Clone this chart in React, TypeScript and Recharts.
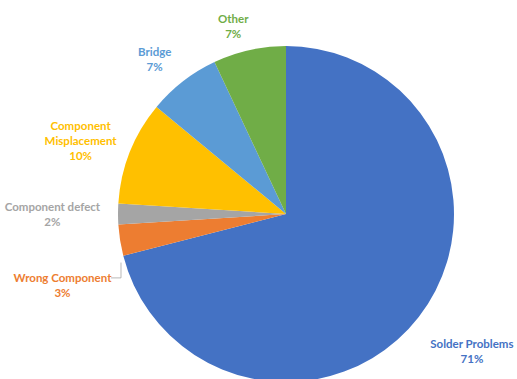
import { PieChart, Pie, Cell } from 'recharts'

const CATEGORIES = [
  'Solder Problems',
  'Wrong Component',
  'Component defect',
  'Component\nMisplacement',
  'Bridge',
  'Other',
]
const SHARES = [71, 3, 2, 10, 7, 7]
const COLORS = ['#4472C4', '#ED7D31', '#A5A5A5', '#FFC000', '#5B9BD5', '#70AD47']

// small hand shifts so labels sit where Excel's "best fit" put them
const NUDGE: Record<string, [number, number]> = {
  'Solder Problems': [9, 0],
  'Wrong Component': [0, 36],
  'Component defect': [-6, 0],
  'Component\nMisplacement': [0, 8],
  Bridge: [-8, 4],
  Other: [-10, 4],
}
const LEADER = ['Wrong Component']

const data = CATEGORIES.map((name, i) => ({ name, value: SHARES[i] }))
const total = SHARES.reduce((a, b) => a + b, 0)

const RADIAN = Math.PI / 180
const FONT = 11.5
const LINE_H = 15
const CHAR_W = 6.2
const GAP = 10

function renderLabel(props: any) {
  const { cx, cy, midAngle, startAngle, outerRadius, index, name } = props
  const lines: string[] = [...String(name).split('\n'), `${Math.round((SHARES[index] / total) * 100)}%`]
  const w = Math.max(...lines.map((l) => l.length)) * CHAR_W
  const h = lines.length * LINE_H
  const cos = Math.cos(-midAngle * RADIAN)
  const sin = Math.sin(-midAngle * RADIAN)
  const d = outerRadius + GAP + (w / 2) * Math.abs(cos) + (h / 2) * Math.abs(sin)
  const [ndx, ndy] = NUDGE[name] ?? [0, 0]
  const x = cx + d * cos + ndx
  const y = cy + d * sin + ndy
  const y0 = y - ((lines.length - 1) * LINE_H) / 2 + FONT * 0.35
  const color = COLORS[index]

  let leader = null
  if (LEADER.includes(name)) {
    const a = -(startAngle + 2) * RADIAN
    const sx = cx + (outerRadius + 4) * Math.cos(a)
    const sy = cy + (outerRadius + 4) * Math.sin(a)
    const ly = y - LINE_H / 2
    leader = (
      <polyline
        points={`${sx},${sy} ${sx},${ly} ${x + w / 2 + 2},${ly}`}
        fill="none"
        stroke="#A6A6A6"
        strokeWidth={0.8}
      />
    )
  }

  return (
    <g key={`lbl-${index}`}>
      {leader}
      <text
        x={x}
        y={y0}
        textAnchor="middle"
        fill={color}
        fontSize={FONT}
        fontWeight={700}
        fontFamily="Lato, 'Open Sans', sans-serif"
      >
        {lines.map((l, i) => (
          <tspan key={i} x={x} y={y0 + i * LINE_H}>
            {l}
          </tspan>
        ))}
      </text>
    </g>
  )
}

export default function App() {
  return (
    <div style={{ position: 'absolute', left: 0, top: 0, background: '#fff' }}>
      <PieChart width={517} height={379} margin={{ top: 0, right: 0, bottom: 0, left: 0 }}>
        <Pie
          data={data}
          dataKey="value"
          nameKey="name"
          cx={286}
          cy={214}
          outerRadius={168}
          startAngle={90}
          endAngle={-270}
          stroke="none"
          label={renderLabel}
          labelLine={false}
          isAnimationActive={false}
        >
          {data.map((entry, i) => (
            <Cell key={entry.name} fill={COLORS[i]} />
          ))}
        </Pie>
      </PieChart>
    </div>
  )
}
